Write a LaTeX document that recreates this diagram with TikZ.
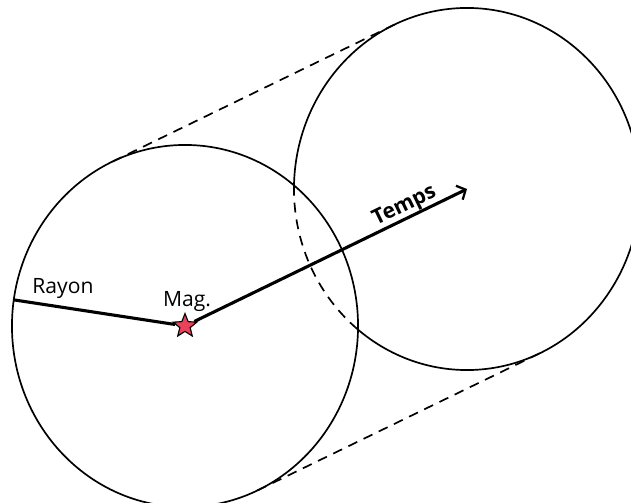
\documentclass[tikz,border=0pt]{standalone}
\usepackage{fontspec}
\setmainfont{Open Sans}
\usetikzlibrary{arrows.meta, shapes.geometric, calc}

\begin{document}
\begin{tikzpicture}[
  x=0.025cm, y=-0.025cm,
  disk/.style={line width=1.2pt},
  hidden/.style={line width=1.2pt, dash pattern=on 7pt off 5pt},
  arr/.style={-{Straight Barb[length=5pt, width=11pt, line width=1.6pt]}, line width=2.2pt},
  lbl/.style={font=\fontsize{15}{17}\selectfont, inner sep=1pt},
  mag/.style={star, star points=5, star point ratio=2.3, minimum size=0.62cm,
              inner sep=0pt, draw=black, line width=0.8pt, fill=magred}
]
  \definecolor{magred}{HTML}{E8435A}
  \useasboundingbox (0,0) rectangle (631,503);

  \coordinate (past)   at (185,326);
  \coordinate (future) at (467,189);

  % tangent points and rim point
  \coordinate (pt) at ($(past)+(114.7:4.325cm and 4.525cm)$);
  \coordinate (ft) at ($(future)+(114.7:4.325cm and 4.525cm)$);
  \coordinate (pb) at ($(past)+(-65.3:4.325cm and 4.525cm)$);
  \coordinate (fb) at ($(future)+(-65.3:4.325cm and 4.525cm)$);
  \coordinate (rim) at ($(past)+(171.7:4.325cm and 4.525cm)$);

  % the two disks, the rear one partly hidden
  \draw[disk] (past) ellipse[x radius=4.325cm, y radius=4.525cm];
  \draw[disk] ([shift={(230:4.325cm and 4.525cm)}]future)
    arc[start angle=230, end angle=539, x radius=4.325cm, y radius=4.525cm];
  \draw[hidden] ([shift={(179:4.325cm and 4.525cm)}]future)
    arc[start angle=179, end angle=230, x radius=4.325cm, y radius=4.525cm];

  \draw[hidden] (pt) -- (ft);
  \draw[hidden] (pb) -- (fb);

  \node[mag] (star) at (past) {};
  \draw[line width=2.2pt] (star) -- (rim);
  \draw[arr] (star) -- node[pos=0.79, above, sloped, inner sep=0pt,
    font=\fontsize{15}{17}\selectfont\bfseries] (temps) {Temps} (future);

  \node[lbl] (rayon) at (63,289) {Rayon};
  \node[lbl] (maglbl) at (187,302) {Mag.};
\end{tikzpicture}
\end{document}
